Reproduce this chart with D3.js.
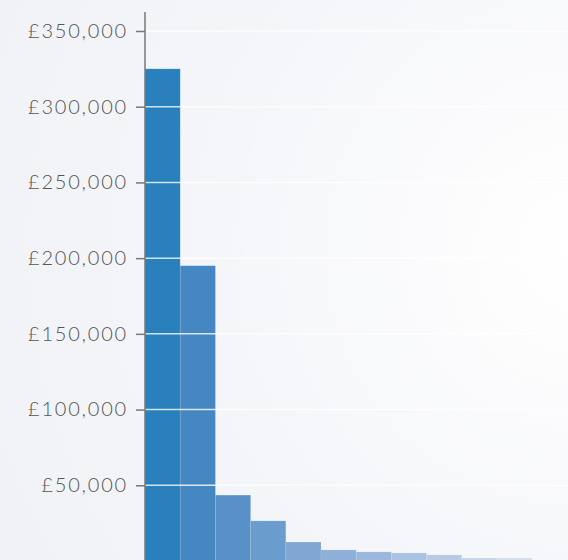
<!DOCTYPE html>
<html>
<head>
<meta charset="utf-8">
<script src="https://cdn.jsdelivr.net/npm/d3@7"></script>
<style>
  html, body { margin: 0; padding: 0; }
  body { width: 568px; height: 560px; overflow: hidden; }
  svg { display: block; }
</style>
</head>
<body>
<svg width="568" height="560"></svg>
<script>
// категории (полосы) и значения
const bands = ["1", "2", "3", "4", "5", "6", "7", "8", "9", "10", "11", "12"];
const amounts = [325000, 195000, 43500, 26500, 12500, 7300, 6000, 5300, 4000, 2000, 2000, 0];
const yTicks = [50000, 100000, 150000, 200000, 250000, 300000, 350000];

const svg = d3.select("svg");

const area = {
  width: 568,
  height: 560,
  left: 145,
  top: 31,
  bottom: 561
};

// фон - радиальный градиент
const defs = svg.append("defs");
const grad = defs.append("radialGradient")
  .attr("id", "bg")
  .attr("gradientUnits", "userSpaceOnUse")
  .attr("cx", 580).attr("cy", 250).attr("r", 650);
grad.append("stop").attr("offset", "0%").attr("stop-color", "#ffffff");
grad.append("stop").attr("offset", "55%").attr("stop-color", "#f5f6f9");
grad.append("stop").attr("offset", "100%").attr("stop-color", "#f0f2f6");

svg.append("rect")
  .attr("width", area.width)
  .attr("height", area.height)
  .attr("fill", "url(#bg)");

const scX = d3.scaleBand()
  .domain(bands)
  .range([area.left, area.left + 35.2 * bands.length])
  .padding(0);

const scY = d3.scaleLinear()
  .domain([0, 350000])
  .range([area.bottom, area.top]);

const colour = d3.scaleLinear()
  .domain([0, 1, 4, 10])
  .range(["#2a7fbd", "#4487c3", "#7fa6d3", "#d3ddef"])
  .interpolate(d3.interpolateRgb);

// столбцы
svg.append("g")
  .selectAll("rect")
  .data(amounts)
  .enter()
  .append("rect")
  .attr("x", (d, i) => scX(bands[i]))
  .attr("y", d => scY(d))
  .attr("width", scX.bandwidth())
  .attr("height", d => scY(0) - scY(d))
  .attr("fill", (d, i) => colour(i))
  .attr("stroke", "rgba(255,255,255,0.1)")
  .attr("stroke-width", 1);

// сетка
svg.append("g")
  .selectAll("line")
  .data(yTicks)
  .enter()
  .append("line")
  .attr("x1", area.left)
  .attr("x2", area.width)
  .attr("y1", d => scY(d))
  .attr("y2", d => scY(d))
  .attr("stroke", "#ffffff")
  .attr("stroke-opacity", 0.8)
  .attr("stroke-width", 1.5);

// ось Y
const axisY = d3.axisLeft(scY)
  .tickValues(yTicks)
  .tickSize(9)
  .tickPadding(8)
  .tickFormat(d => "£" + d3.format(",")(d));

const gY = svg.append("g")
  .attr("transform", `translate(${area.left}, 0)`)
  .call(axisY);

gY.select(".domain")
  .attr("d", `M0,12V${area.height}`)
  .attr("stroke", "#777")
  .attr("stroke-width", 1.5);

gY.selectAll(".tick line")
  .attr("stroke", "#777")
  .attr("stroke-width", 1.5);

gY.selectAll(".tick text")
  .attr("fill", "#555")
  .style("font-family", "Lato, sans-serif")
  .style("font-weight", 300)
  .style("font-size", "20px")
  .style("letter-spacing", "1.8px");
</script>
</body>
</html>
